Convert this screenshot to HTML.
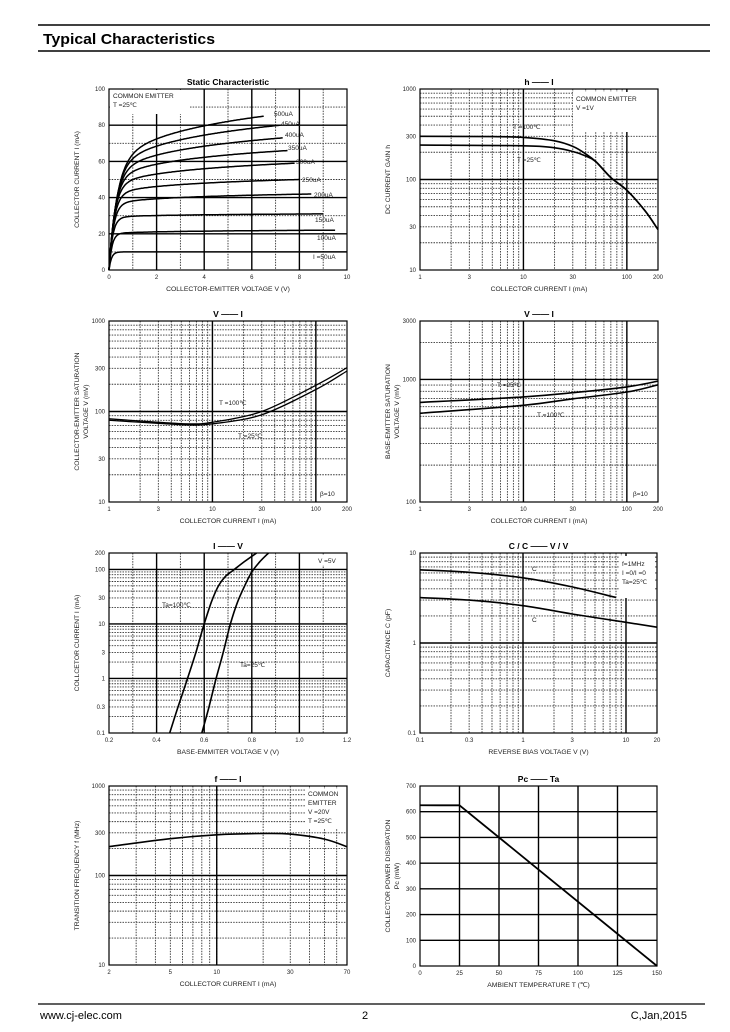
<!DOCTYPE html>
<html><head><meta charset="utf-8"><style>
body{margin:0;background:#fff;width:730px;height:1032px;overflow:hidden}
svg{display:block}
</style></head><body>
<svg id="s" width="730" height="1032" viewBox="0 0 730 1032" xmlns="http://www.w3.org/2000/svg" font-family="Liberation Sans, Arial, sans-serif">
<rect width="730" height="1032" fill="#fff"/>
<line x1="38" y1="25" x2="710" y2="25" stroke="#000" stroke-width="1.5"/>
<line x1="38" y1="51" x2="710" y2="51" stroke="#000" stroke-width="1.5"/>
<text x="43" y="44" font-size="15" font-weight="bold" textLength="172" lengthAdjust="spacingAndGlyphs">Typical Characteristics</text>
<line x1="38" y1="1004" x2="705" y2="1004" stroke="#000" stroke-width="1.2"/>
<text x="40" y="1019" font-size="11">www.cj-elec.com</text>
<text x="362" y="1019" font-size="11">2</text>
<text x="687" y="1019" font-size="11" text-anchor="end">C,Jan,2015</text>
<g id="g"></g>
</svg>
<script>
var g=document.getElementById('g'),NS='http://www.w3.org/2000/svg';
function el(t,a,txt){var e=document.createElementNS(NS,t);for(var k in a)e.setAttribute(k,a[k]);if(txt!==undefined)e.textContent=txt;g.appendChild(e);return e;}
function L(x1,y1,x2,y2,w,dash,c){var a={x1:x1,y1:y1,x2:x2,y2:y2,stroke:c||'#000','stroke-width':w};if(dash)a['stroke-dasharray']=dash;el('line',a);}
function T(x,y,s,fs,anchor,bold,rot){var a={x:x,y:y,'font-size':fs||6.5,fill:'#222'};if(anchor)a['text-anchor']=anchor;if(bold){a['font-weight']='bold';a.fill='#000';}if(rot)a.transform='rotate(-90 '+x+' '+y+')';el('text',a,s);}
function chart(c){
 var X0=c.b[0],Y0=c.b[1],X1=c.b[2],Y1=c.b[3];
 var fx=c.xl?function(v){return X0+(Math.log(v)-Math.log(c.x[0]))/(Math.log(c.x[1])-Math.log(c.x[0]))*(X1-X0)}:function(v){return X0+(v-c.x[0])/(c.x[1]-c.x[0])*(X1-X0)};
 var fy=c.yl?function(v){return Y1-(Math.log(v)-Math.log(c.y[0]))/(Math.log(c.y[1])-Math.log(c.y[0]))*(Y1-Y0)}:function(v){return Y1-(v-c.y[0])/(c.y[1]-c.y[0])*(Y1-Y0)};
 (c.gx||[]).forEach(function(v){var p=fx(v);if(p>X0+1&&p<X1-1)L(p,Y0,p,Y1,0.9,'1.5,1.2','#333')});
 (c.gy||[]).forEach(function(v){var p=fy(v);if(p>Y0+1&&p<Y1-1)L(X0,p,X1,p,0.9,'1.5,1.2','#333')});
 (c.sx||[]).forEach(function(v){var p=fx(v);L(p,Y0,p,Y1,1.4)});
 (c.sy||[]).forEach(function(v){var p=fy(v);L(X0,p,X1,p,1.4)});
 if(c.wbox)el('rect',{x:c.wbox[0],y:c.wbox[1],width:c.wbox[2],height:c.wbox[3],fill:'#fff'});
 el('rect',{x:X0,y:Y0,width:X1-X0,height:Y1-Y0,fill:'none',stroke:'#000','stroke-width':1.2});
 c.xt.forEach(function(v){T(fx(v[0]),Y1+9,v[1],6,'middle')});
 c.yt.forEach(function(v){T(X0-4,fy(v[0])+2,v[1],6,'end')});
 (c.curves||[]).forEach(function(cv){
  var d='';
  if(cv.f){for(var i=0;i<=200;i++){var x=cv.a+(cv.b-cv.a)*i/200;d+=(i?'L':'M')+fx(x).toFixed(1)+','+fy(cv.f(x)).toFixed(1);}}
  else{var P=cv.p.map(function(q){return [fx(q[0]),fy(q[1])]});
   d='M'+P[0][0]+','+P[0][1];
   for(var i=0;i<P.length-1;i++){var p0=P[i-1]||P[i],p1=P[i],p2=P[i+1],p3=P[i+2]||P[i+1];
    d+='C'+(p1[0]+(p2[0]-p0[0])/6).toFixed(1)+','+(p1[1]+(p2[1]-p0[1])/6).toFixed(1)+' '+(p2[0]-(p3[0]-p1[0])/6).toFixed(1)+','+(p2[1]-(p3[1]-p1[1])/6).toFixed(1)+' '+p2[0].toFixed(1)+','+p2[1].toFixed(1);}}
  el('path',{d:d,fill:'none',stroke:'#000','stroke-width':cv.w||1.6});
 });
 (c.tx||[]).forEach(function(t){T(t[0],t[1],t[2],t[3]||6.5,t[4])});
 T((X0+X1)/2,Y0-4,c.title,8.5,'middle',true);
 T((X0+X1)/2,Y1+21,c.xlab,6.8,'middle');
 c.ylab.forEach(function(s,i){T(X0-30+i*9,(Y0+Y1)/2,s,6.8,'middle',false,true)});
}
function dec(a,b){var r=[];for(var d=a;d<b;d*=10)for(var k=1;k<10;k++){var v=d*k;if(v>=a&&v<=b)r.push(v);}return r;}
// 1 static
var lv=[[10,10,10,0.1],[20,22,9.5,0.12],[29,31,9,0.15],[36,42,8.5,0.18],[41,50,8,0.2],[45,59,7.8,0.22],[48,66,7.5,0.24],[50,73,7.3,0.26],[52,80,7.2,0.28],[53,85,6.5,0.3]];
var cur=lv.map(function(l){var p=l[0],e=l[1],xe=l[2],t=l[3];return {a:0,b:xe,w:1.5,f:function(x){return (1-Math.exp(-x/t))*(p+(e-p)*Math.log(1+x/0.5)/Math.log(1+xe/0.5))}}});
chart({b:[109,89,347,270],x:[0,10],y:[0,100],gx:[1,3,5,7,9],gy:[10,30,50,70,90],sx:[2,4,6,8],sy:[20,40,60,80],
 xt:[[0,'0'],[2,'2'],[4,'4'],[6,'6'],[8,'8'],[10,'10']],yt:[[0,'0'],[20,'20'],[40,'40'],[60,'60'],[80,'80'],[100,'100']],
 wbox:[110,90,80,24],curves:cur,title:'Static Characteristic',xlab:'COLLECTOR-EMITTER VOLTAGE   V   (V)',ylab:['COLLECTOR CURRENT   I    (mA)'],
 tx:[[113,98,'COMMON EMITTER'],[113,107,'T =25℃'],[274,116,'500uA'],[281,126,'450uA'],[285,137,'400uA'],[288,150,'350uA'],[296,164,'300uA'],[302,182,'250uA'],[314,197,'200uA'],[315,222,'150uA'],[317,240,'100uA'],[313,259,'I =50uA']]});
// 2 hFE
var lg=dec(1,200);
chart({b:[420,89,658,270],x:[1,200],y:[10,1000],xl:1,yl:1,gx:lg,gy:dec(10,1000),sx:[10,100],sy:[100],
 xt:[[1,'1'],[3,'3'],[10,'10'],[30,'30'],[100,'100'],[200,'200']],yt:[[10,'10'],[30,'30'],[100,'100'],[300,'300'],[1000,'1000']],
 wbox:[573,92,84,40],
 curves:[{p:[[1,300],[5,298],[10,292],[20,268],[30,232],[40,192],[50,158],[70,105],[100,76],[150,45],[200,28]]},{p:[[1,240],[10,236],[20,224],[30,204],[40,182],[50,158],[70,105],[100,76],[150,45],[200,28]]}],
 title:'h    ——    I',xlab:'COLLECTOR CURRENT   I   (mA)',ylab:['DC CURRENT GAIN   h'],
 tx:[[576,101,'COMMON EMITTER'],[576,110,'V   =1V'],[513,129,'T =100℃'],[517,162,'T =25℃']]});
// 3 VCEsat
chart({b:[109,321,347,502],x:[1,200],y:[10,1000],xl:1,yl:1,gx:lg,gy:dec(10,1000),sx:[10,100],sy:[100],
 xt:[[1,'1'],[3,'3'],[10,'10'],[30,'30'],[100,'100'],[200,'200']],yt:[[10,'10'],[30,'30'],[100,'100'],[300,'300'],[1000,'1000']],
 curves:[{w:1.3,p:[[1,83],[3,76],[6,73],[10,76],[30,100],[100,195],[200,305]]},{w:1.3,p:[[1,80],[3,74],[6,71],[10,73],[30,92],[100,175],[200,280]]}],
 title:'V       ——    I',xlab:'COLLECTOR CURRENT   I   (mA)',ylab:['COLLECTOR-EMITTER SATURATION','VOLTAGE   V       (mV)'],
 tx:[[219,405,'T =100℃'],[238,438,'T =25℃'],[320,496,'β=10']]});
// 4 VBEsat
chart({b:[420,321,658,502],x:[1,200],y:[100,3000],xl:1,yl:1,gx:lg,gy:dec(100,3000),sx:[10,100],sy:[1000],
 xt:[[1,'1'],[3,'3'],[10,'10'],[30,'30'],[100,'100'],[200,'200']],yt:[[100,'100'],[1000,'1000'],[3000,'3000']],
 curves:[{p:[[1,650],[10,720],[30,780],[100,870],[200,970]]},{p:[[1,530],[10,615],[30,695],[100,790],[200,905]]}],
 title:'V       ——    I',xlab:'COLLECTOR CURRENT   I   (mA)',ylab:['BASE-EMITTER SATURATION','VOLTAGE   V       (mV)'],
 tx:[[497,387,'T =25℃'],[537,417,'T =100℃'],[633,496,'β=10']]});
// 5 Ic-VBE
chart({b:[109,553,347,733],x:[0.2,1.2],y:[0.1,200],yl:1,gx:[0.3,0.5,0.7,0.9,1.1],gy:dec(0.1,200),sx:[0.4,0.6,0.8,1.0],sy:[1,10,100],
 xt:[[0.2,'0.2'],[0.4,'0.4'],[0.6,'0.6'],[0.8,'0.8'],[1.0,'1.0'],[1.2,'1.2']],yt:[[0.1,'0.1'],[0.3,'0.3'],[1,'1'],[3,'3'],[10,'10'],[30,'30'],[100,'100'],[200,'200']],
 curves:[{p:[[0.455,0.1],[0.49,0.3],[0.53,1],[0.565,3],[0.6,10],[0.63,25],[0.66,50],[0.69,75],[0.72,95],[0.77,140],[0.82,200]]},{p:[[0.59,0.1],[0.62,0.3],[0.65,1],[0.68,3],[0.71,10],[0.74,25],[0.77,50],[0.80,90],[0.835,140],[0.87,200]]}],
 wbox:[315,555,30,10],
 title:'I     ——    V',xlab:'BASE-EMMITER VOLTAGE   V    (V)',ylab:['COLLCETOR CURRENT   I    (mA)'],
 tx:[[162,607,'Ta=100℃'],[240,667,'Ta=25℃'],[318,563,'V  =5V']]});
// 6 Cap
chart({b:[420,553,657,733],x:[0.1,20],y:[0.1,10],xl:1,yl:1,gx:dec(0.1,20),gy:dec(0.1,10),sx:[1,10],sy:[1],
 xt:[[0.1,'0.1'],[0.3,'0.3'],[1,'1'],[3,'3'],[10,'10'],[20,'20']],yt:[[0.1,'0.1'],[1,'1'],[10,'10']],
 wbox:[619,556,36,42],
 curves:[{p:[[0.1,6.5],[0.3,6.1],[1,5.3],[3,4.2],[8,3.2]]},{p:[[0.1,3.2],[0.3,3.0],[1,2.6],[3,2.1],[10,1.7],[20,1.5]]}],
 title:'C   / C      ——    V   / V',xlab:'REVERSE BIAS VOLTAGE   V    (V)',ylab:['CAPACITANCE    C    (pF)'],
 tx:[[622,566,'f=1MHz'],[622,575,'I =0/I =0'],[622,584,'Ta=25℃'],[532,571,'C'],[532,622,'C']]});
// 7 fT
chart({b:[109,786,347,965],x:[2,70],y:[10,1000],xl:1,yl:1,gx:dec(1,70),gy:dec(10,1000),sx:[10],sy:[100],
 xt:[[2,'2'],[5,'5'],[10,'10'],[30,'30'],[70,'70']],yt:[[10,'10'],[100,'100'],[300,'300'],[1000,'1000']],
 wbox:[305,789,41,40],
 curves:[{p:[[2,210],[5,258],[10,285],[20,295],[30,290],[50,255],[70,210]]}],
 title:'f    ——    I',xlab:'COLLECTOR CURRENT   I   (mA)',ylab:['TRANSITION FREQUENCY   f     (MHz)'],
 tx:[[308,796,'COMMON'],[308,805,'EMITTER'],[308,814,'V   =20V'],[308,823,'T =25℃']]});
// 8 Pc
chart({b:[420,786,657,966],x:[0,150],y:[0,700],sx:[25,50,75,100,125],sy:[100,200,300,400,500,600],
 xt:[[0,'0'],[25,'25'],[50,'50'],[75,'75'],[100,'100'],[125,'125'],[150,'150']],yt:[[0,'0'],[100,'100'],[200,'200'],[300,'300'],[400,'400'],[500,'500'],[600,'600'],[700,'700']],
 curves:[{w:1.8,p:[[0,625],[25,625]]},{w:1.8,p:[[25,625],[150,0]]}],
 title:'Pc    ——    Ta',xlab:'AMBIENT TEMPERATURE    T    (℃)',ylab:['COLLECTOR POWER DISSIPATION','Pc   (mW)']});
</script>
</body></html>
